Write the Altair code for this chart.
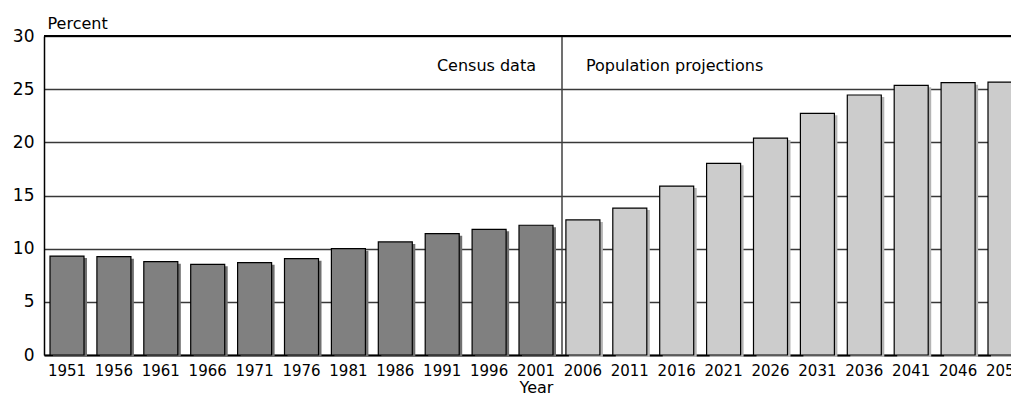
import altair as alt
import pandas as pd

years = ["1951", "1956", "1961", "1966", "1971", "1976", "1981", "1986", "1991", "1996",
         "2001", "2006", "2011", "2016", "2021", "2026", "2031", "2036", "2041", "2046", "2051"]
values = [9.30, 9.25, 8.78, 8.53, 8.68, 9.06, 10.00, 10.63, 11.41, 11.82,
          12.20, 12.70, 13.82, 15.89, 18.03, 20.40, 22.73, 24.45, 25.36, 25.61, 25.67]
periods = ["Census data"] * 11 + ["Population projections"] * 10
period_names = ["Census data", "Population projections"]
bar_colors = ["#808080", "#cccccc"]
shadow_colors = ["#707070", "#b4b4b4"]
y_ticks = [0, 5, 10, 15, 20, 25, 30]

df = pd.DataFrame({"year": years, "value": values, "period": periods})
one = pd.DataFrame({"k": [0]})

FONT = "DejaVu Sans"

x_enc = alt.X(
    "year:O", sort=years,
    scale=alt.Scale(range=[0, 984], paddingInner=0.275, paddingOuter=0.128),
    axis=alt.Axis(title="Year", labelAngle=0, ticks=False, tickSize=0, labelPadding=8,
                  labelFont=FONT, labelFontSize=15, labelColor="black",
                  domainColor="black", domainWidth=2,
                  titleFont=FONT, titleFontSize=16, titleFontWeight="normal",
                  titleColor="black", titlePadding=1, titleX=492, titleAlign="center"),
)
y_enc = alt.Y(
    "value:Q", scale=alt.Scale(domain=[0, 30], nice=False),
    axis=alt.Axis(values=y_ticks, title="Percent", titleAngle=0, titleAlign="left",
                  titleX=3, titleY=-8, titleBaseline="alphabetic",
                  titleFont=FONT, titleFontSize=16, titleFontWeight="normal", titleColor="black",
                  labelFont=FONT, labelFontSize=17, labelColor="black", labelPadding=10,
                  ticks=False, tickSize=0, grid=True, gridColor="#383838", gridWidth=1.3,
                  domainColor="black", domainWidth=1.5),
)

base = alt.Chart(df)

shadow = base.mark_bar(xOffset=3, yOffset=2).encode(
    x=x_enc, y=y_enc,
    color=alt.Color("period:N", scale=alt.Scale(domain=period_names, range=shadow_colors), legend=None),
)

bars = base.mark_bar(stroke="black", strokeWidth=1.2).encode(
    x=x_enc, y=y_enc,
    fill=alt.Fill("period:N", scale=alt.Scale(domain=period_names, range=bar_colors), legend=None),
)

divider = alt.Chart(one).mark_rule(color="#404040", strokeWidth=1.5, xOffset=26).encode(
    x=alt.XDatum("2001", type="ordinal"),
    y=alt.YDatum(0),
    y2=alt.Y2Datum(30),
)

top_line = alt.Chart(one).mark_rule(color="black", strokeWidth=2).encode(
    y=alt.YDatum(30),
)

census_text = alt.Chart(one).mark_text(
    align="right", baseline="alphabetic", font=FONT, fontSize=16, color="black"
).encode(
    x=alt.XDatum("2001", type="ordinal"),
    y=alt.YDatum(26.75),
    text=alt.value(period_names[0]),
)

proj_text = alt.Chart(one).mark_text(
    align="left", baseline="alphabetic", font=FONT, fontSize=16, color="black", dx=3
).encode(
    x=alt.XDatum("2006", type="ordinal"),
    y=alt.YDatum(26.75),
    text=alt.value(period_names[1]),
)

chart = alt.layer(shadow, bars, divider, top_line, census_text, proj_text).properties(
    width=967, height=319,
    autosize="none",
    padding={"left": 36, "top": 28, "right": 0, "bottom": 40},
    background="white",
).configure_view(stroke=None)

chart.save("out.html", embed_options={"renderer": "svg", "actions": False})
